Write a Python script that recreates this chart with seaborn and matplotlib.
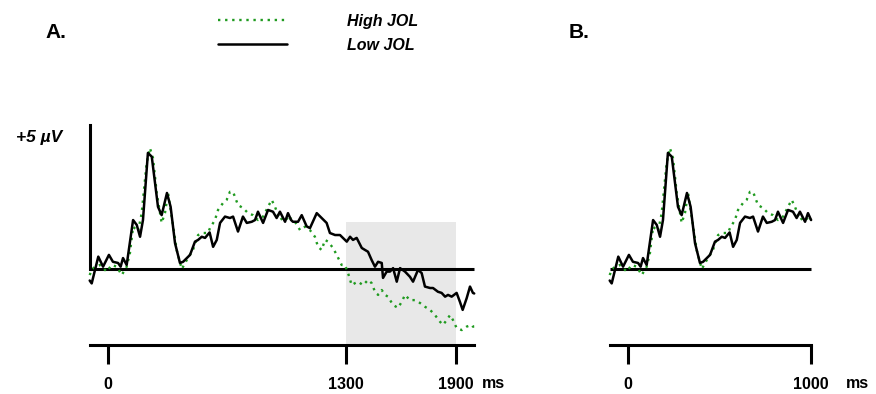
import numpy as np
import pandas as pd
import matplotlib
matplotlib.use("Agg")
import matplotlib.pyplot as plt
from matplotlib.lines import Line2D
import seaborn as sns

# ---------------- data (ms, µV) ----------------
low_t = [-100, -89, -53, -27, 5, 27, 55, 69, 82, 102, 137, 157, 175, 191, 218, 239,
         273, 293, 322, 342, 366, 393, 410, 448, 475, 492, 512, 530, 555, 574, 594,
         612, 639, 666, 683, 710, 737, 758, 785, 803, 819, 847, 874, 901, 921, 939,
         967, 983, 1000, 1010, 1038, 1058, 1085, 1103, 1140, 1167, 1194, 1212, 1240,
         1267, 1283, 1304, 1322, 1338, 1358, 1386, 1404, 1420, 1440, 1458, 1475,
         1495, 1502, 1522, 1540, 1557, 1577, 1595, 1622, 1649, 1666, 1693, 1713,
         1731, 1759, 1775, 1802, 1822, 1841, 1857, 1877, 1904, 1922, 1937, 1959,
         1977, 1993, 2000]
low_v = [-0.40, -0.50, 0.43, 0.08, 0.49, 0.25, 0.21, 0.08, 0.38, 0.14, 1.70, 1.53,
         1.12, 1.70, 4.03, 3.90, 2.16, 1.87, 2.64, 2.16, 0.90, 0.21, 0.25, 0.49,
         0.95, 1.01, 1.12, 1.08, 1.27, 0.77, 1.01, 1.60, 1.82, 1.77, 1.82, 1.30,
         1.82, 1.60, 1.64, 1.70, 1.99, 1.60, 2.05, 1.99, 1.77, 1.99, 1.64, 1.94,
         1.70, 1.64, 1.64, 1.87, 1.48, 1.42, 1.94, 1.77, 1.60, 1.25, 1.18, 1.18,
         1.08, 0.95, 1.12, 1.01, 1.08, 0.73, 0.66, 0.60, 0.31, 0.08, 0.25, 0.21,
         -0.31, -0.09, -0.09, 0.03, -0.44, 0.03, -0.09, -0.27, -0.44, -0.03, -0.14,
         -0.61, -0.66, -0.66, -0.79, -0.83, -0.96, -0.90, -0.96, -0.83, -1.14,
         -1.42, -1.01, -0.61, -0.83, -0.85]

high_t = [-100, -89, -71, -44, -7, 20, 48, 75, 102, 120, 137, 164, 184, 211, 229,
          246, 266, 293, 311, 328, 348, 375, 403, 430, 464, 492, 519, 546, 557, 584,
          601, 628, 648, 666, 683, 710, 737, 765, 792, 819, 847, 874, 894, 912, 939,
          967, 994, 1000, 1021, 1049, 1076, 1103, 1130, 1147, 1167, 1185, 1202, 1229,
          1249, 1276, 1294, 1311, 1331, 1349, 1365, 1393, 1420, 1440, 1458, 1475,
          1495, 1513, 1529, 1557, 1584, 1604, 1622, 1649, 1677, 1704, 1731, 1759,
          1786, 1813, 1830, 1850, 1868, 1884, 1904, 1932, 1959, 1986, 1993, 2000]
high_v = [-0.21, -0.03, 0.08, 0.14, -0.09, 0.14, 0.08, -0.21, 0.08, 0.56, 1.47, 1.30,
          1.94, 3.68, 4.20, 3.85, 2.64, 1.60, 1.94, 2.64, 1.82, 0.66, 0.00, 0.31,
          0.66, 1.18, 1.25, 1.25, 1.42, 1.70, 2.05, 2.29, 2.40, 2.68, 2.68, 2.22,
          2.12, 1.94, 1.87, 1.70, 1.82, 2.16, 2.40, 2.16, 1.70, 1.82, 1.64, 1.75,
          1.64, 1.35, 1.47, 1.35, 1.12, 0.77, 0.66, 1.01, 0.95, 0.73, 0.49, 0.14,
          0.14, -0.14, -0.56, -0.49, -0.44, -0.56, -0.38, -0.49, -0.79, -0.90, -0.73,
          -0.90, -0.96, -1.25, -1.35, -1.14, -0.90, -1.08, -1.08, -1.18, -1.31,
          -1.42, -1.60, -1.83, -1.94, -1.77, -1.60, -1.77, -2.05, -2.12, -2.00,
          -1.94, -2.00, -2.00]

ticks_a = [0, 1300, 1900]
ticks_b = [0, 1000]
epoch_a = (-100, 2000)
epoch_b = (-100, 1000)
window = (1300, 1900)
window_top = 1.63
scale_bar = 5
legend_labels = ["High JOL", "Low JOL"]

# ---------------- style ----------------
sns.set_style("white")
plt.rcParams["font.family"] = ["Liberation Sans", "DejaVu Sans"]
plt.rcParams["text.color"] = "black"
plt.rcParams["xtick.color"] = "black"
plt.rcParams["xtick.labelcolor"] = "black"

GREEN = "#1f9a1f"
DOT = (0, (1, 2))
AX_LW = 2.2
LINE_LW = 1.8
axis_y = -2.64
ylim = (-4.34, 5.868)

fig = plt.figure(figsize=(8.76, 3.94), dpi=100)
axA = fig.add_axes([85 / 876, 0, 391 / 876, 294 / 394])
axB = fig.add_axes([605 / 876, 0, 210 / 876, 294 / 394])

df_low = pd.DataFrame({"t": low_t, "v": low_v})
df_high = pd.DataFrame({"t": high_t, "v": high_v})


def panel(ax, epoch, ticks, xlim, ms_x, with_bar):
    lo = df_low[(df_low.t >= epoch[0]) & (df_low.t <= epoch[1])]
    hi = df_high[(df_high.t >= epoch[0]) & (df_high.t <= epoch[1])]
    ax.hlines(0, epoch[0], epoch[1], color="black", lw=AX_LW, zorder=2)
    sns.lineplot(data=hi, x="t", y="v", ax=ax, color=GREEN, lw=1.7,
                 linestyle=DOT, estimator=None, sort=False, zorder=3,
                 legend=False)
    sns.lineplot(data=lo, x="t", y="v", ax=ax, color="black", lw=LINE_LW,
                 estimator=None, sort=False, zorder=4, legend=False)
    ax.set_xlim(*xlim)
    ax.set_ylim(*ylim)
    ax.set_xlabel("")
    ax.set_ylabel("")
    for s in ["top", "right"]:
        ax.spines[s].set_visible(False)
    ax.spines["bottom"].set_position(("data", axis_y))
    ax.spines["bottom"].set_bounds(epoch[0], epoch[1])
    ax.spines["bottom"].set_linewidth(AX_LW)
    ax.spines["bottom"].set_color("black")
    if with_bar:
        ax.spines["left"].set_position(("data", epoch[0]))
        ax.spines["left"].set_bounds(0, scale_bar)
        ax.spines["left"].set_linewidth(AX_LW)
        ax.spines["left"].set_color("black")
    else:
        ax.spines["left"].set_visible(False)
    ax.set_yticks([])
    ax.set_xticks(ticks)
    ax.set_xticklabels([str(t) for t in ticks], fontweight="bold", fontsize=11.5,
                       color="black")
    ax.tick_params(axis="x", direction="out", length=13.7, width=AX_LW,
                   pad=9.5, bottom=True, color="black")
    ax.patch.set_alpha(0)
    ax.text(ms_x, -3.96, "ms", fontweight="bold", color="black",
            fontsize=11.5, ha="center", va="center")


panel(axA, epoch_a, ticks_a, (-125.6, 2009.8), 2103, True)
panel(axB, epoch_b, ticks_b, (-125.6, 1021.3), 1251, False)

axA.fill_between(list(window), axis_y, window_top, color="#e8e8e8", lw=0, zorder=1)

axA.text(-251, 4.58, "+5 µV", fontweight="bold", fontstyle="italic", color="black",
         fontsize=12.5, ha="right", va="center")

fig.text(56 / 876, 1 - 33 / 394, "A.", fontweight="bold", fontsize=15,
         color="black", ha="center", va="center")
fig.text(579 / 876, 1 - 33 / 394, "B.", fontweight="bold", fontsize=15,
         color="black", ha="center", va="center")

h1 = Line2D([], [], color=GREEN, lw=1.7, linestyle=DOT)
h2 = Line2D([], [], color="black", lw=LINE_LW)
leg = fig.legend([h1, h2], legend_labels, loc="upper left",
                 bbox_to_anchor=(218 / 876, 1 - 14 / 394), frameon=False,
                 handlelength=4.3, handletextpad=3.75, labelspacing=0.55,
                 borderpad=0, borderaxespad=0,
                 prop={"weight": "bold", "style": "italic", "size": 11.5})
for t in leg.get_texts():
    t.set_color("black")

fig.savefig("out.png", dpi=100)
